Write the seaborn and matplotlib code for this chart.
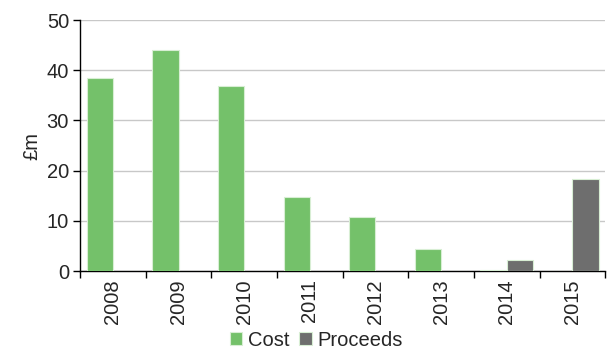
import pandas as pd
import numpy as np
import matplotlib
matplotlib.use('Agg')
import matplotlib.pyplot as plt
import seaborn as sns

years = ['2008', '2009', '2010', '2011', '2012', '2013', '2014', '2015']
cost = [38.5, 44.0, 36.8, 14.8, 10.7, 4.4, 0.3, 0.0]
proceeds = [0.0, 0.0, 0.0, 0.0, 0.0, 0.0, 2.2, 18.3]
series = ['Cost', 'Proceeds']
colors = ['#74C16A', '#6E6E6E']

df = pd.DataFrame({'year': years * 2,
                   'value': cost + proceeds,
                   'series': [series[0]] * len(years) + [series[1]] * len(years)})

sns.set_style('white')
plt.rcParams['font.family'] = ['Liberation Sans', 'DejaVu Sans']

fig = plt.figure(figsize=(6.07, 3.52), dpi=100)
ax = fig.add_axes([0.132, 0.230, 0.865, 0.713])
sns.barplot(data=df, x='year', y='value', hue='series', palette=colors, saturation=1,
            width=0.8, edgecolor='#D8EED4', linewidth=0.8, ax=ax, zorder=3)

ax.set_ylim(0, 50)
ax.set_yticks(range(0, 51, 10))
ax.set_xlim(-0.5, len(years) - 0.5)
ax.yaxis.grid(True, color='#C8C8C8', linewidth=1, zorder=0)
ax.set_axisbelow(True)
for s in ['top', 'right']:
    ax.spines[s].set_visible(False)
for s in ['left', 'bottom']:
    ax.spines[s].set_color('black')
    ax.spines[s].set_linewidth(1)

ax.set_xlabel('')
ax.set_ylabel('£m', fontsize=14.5, labelpad=4)
ax.tick_params(axis='y', direction='out', length=5, width=1, color='black',
               labelsize=14.5, left=True, pad=3)
ax.tick_params(axis='x', length=0, labelsize=14.5, rotation=90, pad=6)
ax.set_xticks(np.arange(-0.5, len(years), 1), minor=True)
ax.tick_params(axis='x', which='minor', direction='out', length=5, width=1,
               color='black', bottom=True)

ax.legend(loc='center', bbox_to_anchor=(0.45, -0.275), ncol=2, frameon=False,
          fontsize=14.5, handlelength=0.6, handleheight=0.6, handletextpad=0.3,
          columnspacing=0.5, borderpad=0)

fig.savefig('out.png', dpi=100)
